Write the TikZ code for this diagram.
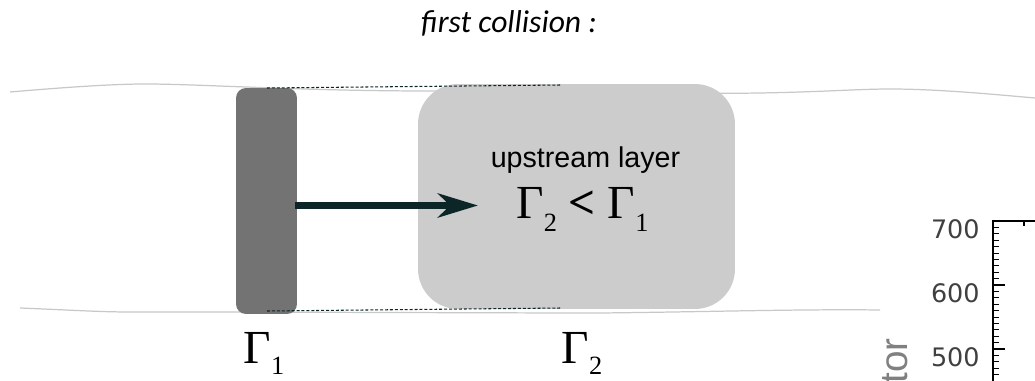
\documentclass[tikz,border=0pt]{standalone}
\usepackage{fontspec}
\setmainfont{Liberation Serif}
\setsansfont{Liberation Sans}
\newfontfamily\titlefont{Carlito}
\newfontfamily\axisfont{DejaVu Sans}
\usetikzlibrary{arrows.meta,positioning,calc}
\definecolor{darkslab}{RGB}{115,115,115}
\definecolor{lightslab}{RGB}{204,204,204}
\definecolor{streamline}{RGB}{200,200,200}
\definecolor{arrowteal}{RGB}{12,38,40}
\newcommand{\gsub}[2]{\raisebox{-#2}{\fontsize{15}{15}\selectfont #1}}

\begin{document}
\begin{tikzpicture}[x=0.02cm, y=-0.02cm,
  stream/.style={draw=streamline, line width=0.7pt},
  edge/.style={draw=arrowteal, line width=0.6pt, dash pattern=on 1.7pt off 1.1pt},
  gamma/.style={font=\fontsize{27}{27}\selectfont, inner sep=0pt}]
\useasboundingbox (0,0) rectangle (1035,381);
% stream lines
\draw[stream] (10,92) .. controls (80,86) and (120,84) .. (145,84) .. controls (200,84) and (300,91) .. (430,91) .. controls (600,91) and (700,94) .. (760,93) .. controls (820,92) and (860,89) .. (890,89) .. controls (940,89) and (1000,95) .. (1035,98);
\draw[stream] (20,308) .. controls (70,310) and (100,312) .. (130,312) .. controls (300,312) and (500,313) .. (600,313) .. controls (700,312) and (800,309) .. (880,310);
% slabs
\node[draw=none, fill=darkslab, rounded corners=0.2cm, minimum width=1.22cm, minimum height=4.52cm, inner sep=0pt] (slab1) at (266.5,201) {};
\node[draw=none, fill=lightslab, rounded corners=0.8cm, minimum width=6.34cm, minimum height=4.5cm, inner sep=0pt] (slab2) at (576.5,196.5) {};
\coordinate (topa) at (267,88);
\coordinate (topb) at (562,85);
\coordinate (bota) at (267,311);
\coordinate (botb) at (562,308);
\draw[edge] (topa) -- (topb);
\draw[edge] (bota) -- (botb);
% shock arrow
\coordinate (tip) at (478,205.5);
\draw[-{Stealth[length=22.7pt, width=13.6pt, inset=6.8pt]}, draw=arrowteal, fill=arrowteal, line width=4pt] (slab1.east |- tip) ++(-2,0) -- (tip);
% labels
\node[anchor=base, font=\sffamily\fontsize{16.3}{16.3}\selectfont, inner sep=0pt] (layer) at (585.5,168) {upstream layer};
\node[gamma, anchor=base] (ratio) at (582.5,219) {Γ\gsub{2}{7pt} \textbf{<} Γ\gsub{1}{7pt}};
\node[gamma, anchor=base] (g1) at (264,364) {Γ\gsub{1}{6pt}};
\node[gamma, anchor=base] (g2) at (582,364) {Γ\gsub{2}{6pt}};
\node[font=\titlefont\itshape\fontsize{18}{18}\selectfont, anchor=base, inner sep=0pt] (title) at (509,33) {first collision :};
% cut-off plot on the right
\draw[line width=0.6pt] (993,381) -- (993,221) -- (1035,221);
\draw[line width=0.6pt] (1024,221) -- (1024,226);
\foreach \v in {450,460,...,700} {
  \draw[line width=0.5pt] (993,{221+(700-\v)*0.64}) -- ++(6,0);
}
\foreach \v in {500,600,700} {
  \draw[line width=0.6pt] (993,{221+(700-\v)*0.64}) -- ++(12,0);
  \node[anchor=east, font=\axisfont\fontsize{14.5}{14.5}\selectfont, text=black!75, inner sep=0pt] (tick\v) at (980,{229+(700-\v)*0.64}) {\v};
}
\node[rotate=90, anchor=base east, font=\sffamily\fontsize{22}{22}\selectfont, text=black!50, inner sep=0pt] (ylabel) at (907,338) {ctor};
\end{tikzpicture}
\end{document}
